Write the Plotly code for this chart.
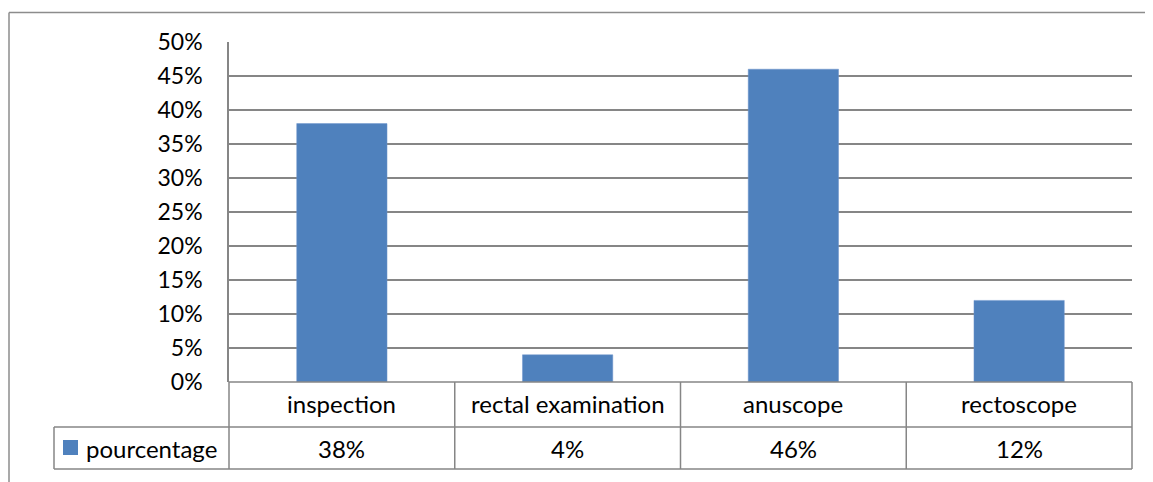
import plotly.graph_objects as go

categories = ["inspection", "rectal examination", "anuscope", "rectoscope"]
values = [0.38, 0.04, 0.46, 0.12]
series_name = "pourcentage"

OFF = 8                 # page body margin of the browser
W, H = 1153 - OFF, 482 - OFF
PX0, PX1 = 229, 1132    # plot area x (px, reference coords)
PY0, PY1 = 42, 382      # plot area y top/bottom
ROW1, ROW2 = 427, 469   # table row bottoms
LEG_X = 54
GRID = "#868686"
BAR = "#4F81BD"
FONT = "Lato, Open Sans, sans-serif"
FS = 24
FS_TICK = 23

def px(x):
    return (x - OFF) / W

def py(y):
    return 1 - (y - OFF) / H

fig = go.Figure()
fig.add_trace(go.Bar(
    x=categories, y=values, name=series_name,
    marker=dict(color=BAR, line=dict(color="#6E95CC", width=0.5)),
    width=0.4, showlegend=False,
))

shapes = []
def line(x0, y0, x1, y1, w=1.5, color=GRID):
    shapes.append(dict(type="line", xref="paper", yref="paper",
                       x0=px(x0), y0=py(y0), x1=px(x1), y1=py(y1),
                       line=dict(color=color, width=w)))

# outer chart border
line(9, 12.5, 1153, 12.5, 1.5, "#8C8C8C")
line(9, 12.5, 9, 482, 1.5, "#8C8C8C")

# data table
n = len(categories)
colw = (PX1 - PX0) / n
line(PX0, PY1, PX1, PY1)
line(LEG_X, ROW1, PX1, ROW1)
line(LEG_X, ROW2, PX1, ROW2)
line(LEG_X, ROW1, LEG_X, ROW2)
for i in range(n + 1):
    xx = PX0 + i * colw
    line(xx, PY1, xx, ROW2)

annotations = []
for i, (c, v) in enumerate(zip(categories, values)):
    cx = PX0 + (i + 0.5) * colw
    annotations.append(dict(xref="paper", yref="paper", x=px(cx), y=py((PY1 + ROW1) / 2 - 1),
                            text=c, showarrow=False, xanchor="center", yanchor="middle",
                            font=dict(size=FS, color="#000", family=FONT)))
    annotations.append(dict(xref="paper", yref="paper", x=px(cx), y=py((ROW1 + ROW2) / 2),
                            text=f"{round(v * 100)}%", showarrow=False, xanchor="center", yanchor="middle",
                            font=dict(size=FS, color="#000", family=FONT)))

# legend key in table
shapes.append(dict(type="rect", xref="paper", yref="paper",
                   x0=px(63), x1=px(78), y0=py(455), y1=py(440),
                   fillcolor=BAR, line=dict(width=0)))
annotations.append(dict(xref="paper", yref="paper", x=px(84), y=py((ROW1 + ROW2) / 2),
                        text=series_name, showarrow=False, xanchor="left", yanchor="middle",
                        font=dict(size=FS, color="#000", family=FONT)))

fig.update_layout(
    width=W, height=H,
    margin=dict(l=0, r=0, t=0, b=0, autoexpand=False),
    paper_bgcolor="white", plot_bgcolor="white",
    font=dict(family=FONT, size=FS, color="#000"),
    shapes=shapes, annotations=annotations,
    xaxis=dict(domain=[px(PX0), px(PX1)], showticklabels=False, showgrid=False,
               zeroline=False, showline=False, fixedrange=True, automargin=False),
    yaxis=dict(domain=[py(PY1), py(PY0)], range=[0, 0.5], dtick=0.05, tickformat=".0%",
               showgrid=True, gridcolor=GRID, gridwidth=1.5, zeroline=False,
               showline=True, linecolor=GRID, linewidth=1.5, automargin=False,
               ticks="", ticklabelstandoff=20, tickfont=dict(size=FS_TICK, family=FONT)),
)

fig.write_html("out.html")
